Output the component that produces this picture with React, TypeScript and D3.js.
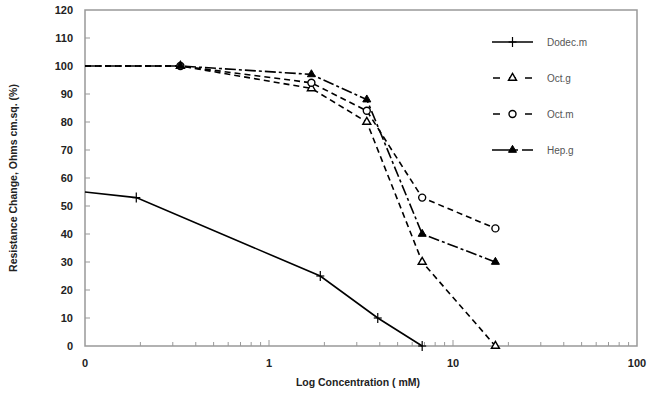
import React from "react";
import * as d3 from "d3";

const octX = [0.1, 0.33, 1.7, 3.4, 6.8, 17];
const octG = [100, 100, 92, 80, 30, 0];
const octM = [100, 100, 94, 84, 53, 42];
const hepG = [100, 100, 97, 88, 40, 30];
const dodecX = [0.1, 0.19, 1.9, 3.9, 6.8];
const dodecM = [55, 53, 25, 10, 0];
const yTicks = [0, 10, 20, 30, 40, 50, 60, 70, 80, 90, 100, 110, 120];
const xTicks = [0.1, 1, 10, 100];
const xTickLabels = ["0", "1", "10", "100"];
const legendNames = ["Dodec.m", "Oct.g", "Oct.m", "Hep.g"];

const W = 649, H = 394;
const L = 85, R = 637, T = 10, B = 346;

type S = { name: string; xs: number[]; ys: number[]; dash: string; marker: string; skipFirst: boolean };

export default function App() {
  const x = d3.scaleLog().domain([0.1, 100]).range([L, R]);
  const y = d3.scaleLinear().domain([0, 120]).range([B, T]);
  const series: S[] = [
    { name: legendNames[0], xs: dodecX, ys: dodecM, dash: "", marker: "plus", skipFirst: true },
    { name: legendNames[1], xs: octX, ys: octG, dash: "6,4", marker: "triOpen", skipFirst: true },
    { name: legendNames[2], xs: octX, ys: octM, dash: "6,4", marker: "circOpen", skipFirst: true },
    { name: legendNames[3], xs: octX, ys: hepG, dash: "11,3,3,3", marker: "triFilled", skipFirst: true },
  ];
  const line = d3.line<[number, number]>().x((d) => x(d[0])).y((d) => y(d[1]));
  const minor: number[] = [];
  [0.1, 1, 10].forEach((dec) => {
    for (let k = 2; k <= 9; k++) minor.push(dec * k);
  });
  const tri = d3.symbol().type(d3.symbolTriangle).size(28);
  const marker = (m: string, cx: number, cy: number, key: string) => {
    if (m === "plus")
      return (
        <g key={key} stroke="#000" strokeWidth={1.2}>
          <line x1={cx} x2={cx} y1={cy - 5} y2={cy + 5} />
          <line x1={cx - 4} x2={cx + 4} y1={cy} y2={cy} />
        </g>
      );
    if (m === "triOpen")
      return <path key={key} d={tri()!} transform={`translate(${cx},${cy})`} fill="#fff" stroke="#000" strokeWidth={1.4} />;
    if (m === "triFilled")
      return <path key={key} d={tri()!} transform={`translate(${cx},${cy})`} fill="#000" stroke="#000" strokeWidth={1} />;
    return <circle key={key} cx={cx} cy={cy} r={3.5} fill="#fff" stroke="#000" strokeWidth={1.4} />;
  };
  const font = "'Liberation Sans', Arial, sans-serif";
  return (
    <svg width={W} height={H} style={{ position: "absolute", left: 0, top: 0, background: "#fff" }}>
      <rect x={L} y={T} width={R - L} height={B - T} fill="none" stroke="#999" strokeWidth={1.5} />
      {yTicks.slice(1, -1).map((v) => (
        <line key={"yt" + v} x1={L} x2={L + 5} y1={y(v)} y2={y(v)} stroke="#999" strokeWidth={1} />
      ))}
      {minor.map((v) => (
        <line key={"xm" + v} x1={x(v)} x2={x(v)} y1={B} y2={B - 4} stroke="#999" strokeWidth={1} />
      ))}
      {xTicks.slice(1, -1).map((v) => (
        <line key={"xM" + v} x1={x(v)} x2={x(v)} y1={B} y2={B - 6} stroke="#999" strokeWidth={1} />
      ))}
      {yTicks.map((v) => (
        <text key={"yl" + v} x={73} y={y(v) + 4} textAnchor="end" fontFamily={font} fontWeight="bold" fontSize={11} fill="#222">
          {v}
        </text>
      ))}
      {xTicks.map((v, i) => (
        <text key={"xl" + v} x={x(v)} y={367} textAnchor="middle" fontFamily={font} fontWeight="bold" fontSize={11} fill="#222">
          {xTickLabels[i]}
        </text>
      ))}
      <text x={358} y={386} textAnchor="middle" fontFamily={font} fontWeight="bold" fontSize={10.5} fill="#222">
        Log Concentration ( mM)
      </text>
      <text transform={`translate(17,${(T + B) / 2}) rotate(-90)`} textAnchor="middle" fontFamily={font} fontWeight="bold" fontSize={10.5} fill="#222">
        Resistance Change, Ohms cm.sq. (%)
      </text>
      {series.map((s) => (
        <g key={s.name}>
          <path
            d={line(s.xs.map((xv, i) => [xv, s.ys[i]] as [number, number]))!}
            fill="none"
            stroke="#000"
            strokeWidth={1.6}
            strokeDasharray={s.dash || undefined}
          />
          {s.xs.map((xv, i) => (s.skipFirst && i === 0 ? null : marker(s.marker, x(xv), y(s.ys[i]), s.name + i)))}
        </g>
      ))}
      {series.map((s, i) => {
        const ly = 42 + i * 36;
        return (
          <g key={"lg" + s.name}>
            <line x1={492} x2={533} y1={ly} y2={ly} stroke="#000" strokeWidth={1.6} strokeDasharray={s.dash ? (i === 3 ? "18,4,4,4" : "7,9") : undefined} strokeDashoffset={s.dash && i !== 3 ? -1 : 0} />
            {marker(s.marker, 512.5, ly, "lm" + i)}
            <text x={547} y={ly + 4} fontFamily={font} fontSize={10} fill="#555">
              {s.name}
            </text>
          </g>
        );
      })}
    </svg>
  );
}
